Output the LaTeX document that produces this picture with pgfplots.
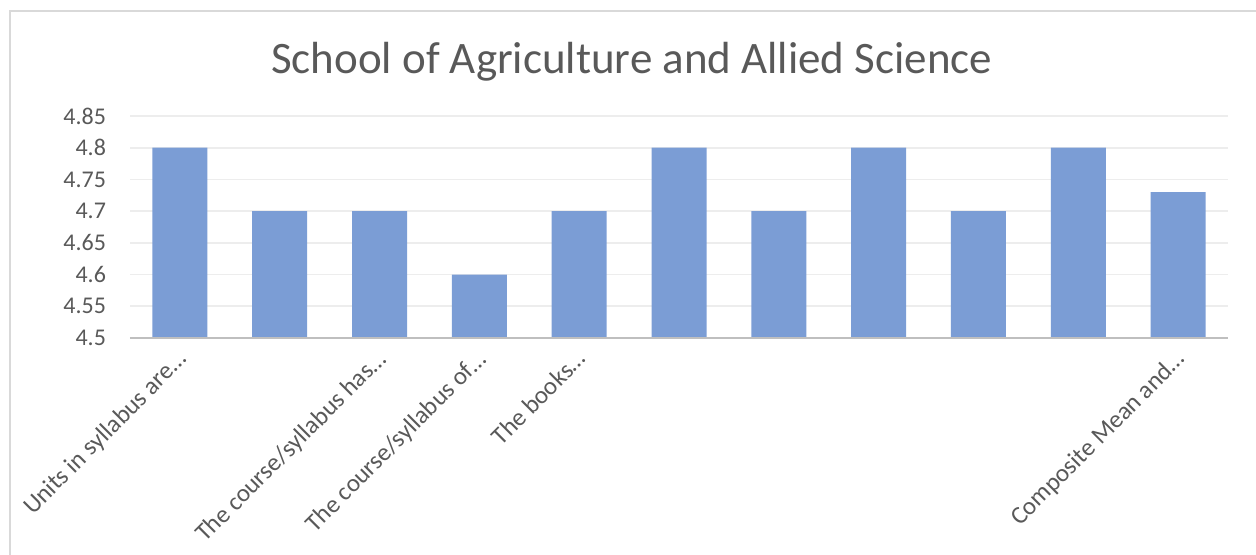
\documentclass[border=0pt]{standalone}
\usepackage{fontspec}
\setmainfont{Carlito}
\usepackage{pgfplots}
\pgfplotsset{compat=1.18}
\definecolor{barblue}{HTML}{7B9DD5}
\definecolor{txtgray}{HTML}{595959}
\definecolor{gridgray}{HTML}{EDEDED}
\definecolor{axisgray}{HTML}{BFBFBF}
\definecolor{framegray}{HTML}{D9D9D9}
\begin{document}
\begin{tikzpicture}
\useasboundingbox (-65pt,-108.5pt) rectangle (563pt,169pt);
\draw[framegray, line width=1pt] (-60pt,-110pt) -- (-60pt,163.5pt) -- (565pt,163.5pt);
\begin{axis}[
    at={(0,0)}, anchor=south west,
    scale only axis,
    width=549pt, height=111pt,
    ymin=4.5, ymax=4.85,
    xmin=-0.5, xmax=10.5,
    ytick={4.5,4.55,...,4.85},
    yticklabels={4.5,4.55,4.6,4.65,4.7,4.75,4.8,4.85},
    xtick={0,...,10},
    xticklabels={Units in syllabus are\ldots,,The course/syllabus has\ldots,The course/syllabus of\ldots,The books\ldots,,,,,,Composite Mean and\ldots},
    x tick label style={rotate=45, anchor=north east, inner sep=2pt, xshift=-3pt, font=\fontsize{12.5pt}{14pt}\selectfont, text=txtgray},
    y tick label style={font=\fontsize{12pt}{14pt}\selectfont, text=txtgray, xshift=-8.5pt},
    major tick length=0pt,
    ymajorgrids,
    grid style={gridgray, line width=0.8pt},
    axis lines*=left,
    axis line style={draw=none},
    clip=false,
    title={School of Agriculture and Allied Science},
    title style={font=\fontsize{22.5pt}{26pt}\selectfont, text=txtgray, at={(0.457,1)}, yshift=8pt},
]
\addplot[ybar, bar width=27.5pt, fill=barblue, draw=none] coordinates {
    (0,4.8) (1,4.7) (2,4.7) (3,4.6) (4,4.7) (5,4.8) (6,4.7) (7,4.8) (8,4.7) (9,4.8) (10,4.73)
};
\draw[axisgray, line width=1.2pt] (axis cs:-0.5,4.5) -- (axis cs:10.5,4.5);
\end{axis}
\end{tikzpicture}
\end{document}
